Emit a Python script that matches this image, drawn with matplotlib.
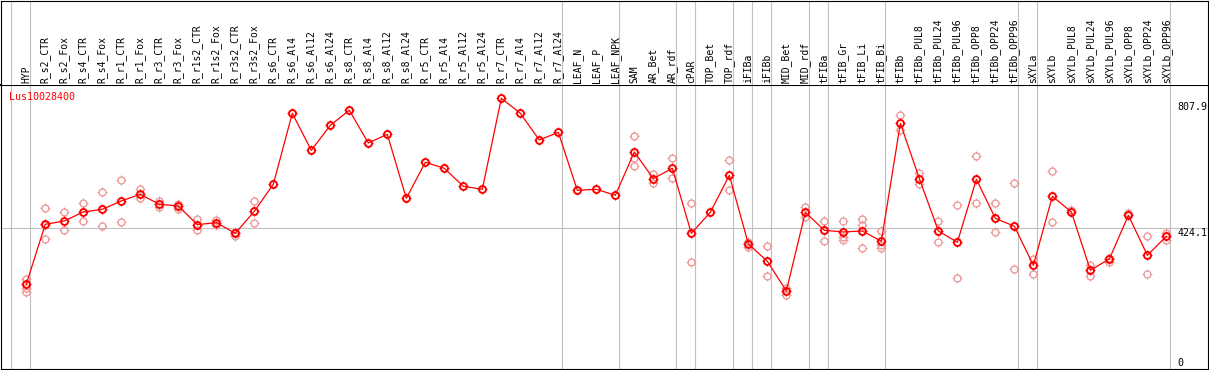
import numpy as np
import matplotlib.pyplot as plt
from matplotlib.path import Path

categories = ["HYP", "R_s2_CTR", "R_s2_Fox", "R_s4_CTR", "R_s4_Fox", "R_r1_CTR", "R_r1_Fox",
              "R_r3_CTR", "R_r3_Fox", "R_r1s2_CTR", "R_r1s2_Fox", "R_r3s2_CTR", "R_r3s2_Fox",
              "R_s6_CTR", "R_s6_Al4", "R_s6_Al12", "R_s6_Al24", "R_s8_CTR", "R_s8_Al4",
              "R_s8_Al12", "R_s8_Al24", "R_r5_CTR", "R_r5_Al4", "R_r5_Al12", "R_r5_Al24",
              "R_r7_CTR", "R_r7_Al4", "R_r7_Al12", "R_r7_Al24", "LEAF_N", "LEAF_P", "LEAF_NPK",
              "SAM", "AR_Bet", "AR_rdf", "cPAR", "TOP_Bet", "TOP_rdf", "iFIBa", "iFIBb",
              "MID_Bet", "MID_rdf", "tFIBa", "tFIB_Gr", "tFIB_Li", "tFIB_Bi", "tFIBb",
              "tFIBb_PUL8", "tFIBb_PUL24", "tFIBb_PUL96", "tFIBb_OPP8", "tFIBb_OPP24",
              "tFIBb_OPP96", "sXYLa", "sXYLb", "sXYLb_PUL8", "sXYLb_PUL24", "sXYLb_PUL96",
              "sXYLb_OPP8", "sXYLb_OPP24", "sXYLb_OPP96"]

means = [258.8, 435.9, 445.8, 472.3, 480.2, 504.8, 524.5, 495.0, 490.1, 434.9, 440.9,
         409.4, 474.3, 554.0, 763.6, 654.4, 728.2, 772.5, 676.0, 701.6, 512.7, 619.0,
         601.3, 548.1, 539.3, 807.9, 763.6, 684.9, 707.5, 536.3, 539.3, 521.6, 649.5,
         570.8, 601.3, 409.4, 471.4, 580.6, 377.9, 326.7, 239.1, 471.4, 418.2, 413.3,
         416.3, 385.8, 734.1, 570.8, 416.3, 382.8, 568.8, 453.6, 430.0, 314.9, 518.6,
         472.3, 300.1, 333.6, 462.5, 344.4, 400.5]

# replicate samples: category index and value
rep_idx = [0, 0, 0, 1, 1, 1, 2, 2, 3, 3, 4, 4, 5, 5, 6, 6, 7, 7, 8, 8, 9, 9, 10, 10,
           11, 11, 12, 12, 32, 32, 32, 33, 33, 34, 34, 35, 35, 37, 37, 38, 38, 39, 39,
           40, 40, 41, 41, 42, 42, 43, 43, 43, 44, 44, 44, 45, 45, 45, 46, 46, 47, 47,
           48, 48, 49, 49, 50, 50, 51, 51, 52, 52, 53, 53, 54, 54, 55, 56, 56, 57, 57,
           58, 59, 59, 60, 60]
rep_val = [275.5, 249.0, 237.2, 483.2, 434.0, 391.7, 472.3, 418.2, 497.9, 444.8,
           531.4, 430.0, 565.8, 442.8, 539.3, 512.7, 505.8, 487.1, 495.0, 481.2,
           450.7, 418.2, 449.7, 433.0, 414.3, 402.5, 505.8, 438.9, 695.7, 630.8, 609.1,
           583.5, 557.0, 630.8, 571.7, 497.9, 323.8, 624.9, 536.3, 384.8, 370.0,
           371.0, 282.4, 247.0, 227.3, 487.1, 458.6, 445.8, 385.8, 445.8, 397.6, 389.7,
           450.7, 434.0, 365.1, 416.3, 374.9, 365.1, 758.7, 714.4, 586.5, 556.0,
           445.8, 382.8, 492.0, 276.5, 636.7, 497.9, 497.9, 413.3, 558.0, 303.1,
           332.6, 288.3, 592.4, 441.8, 478.3, 315.9, 284.4, 337.5, 325.7, 468.4,
           400.5, 288.3, 410.4, 390.7]

# dividers sit just right of these category indices
dividers = [-1, 0, 28, 31, 34, 35, 37, 38, 39, 41, 42, 45, 52, 53, 60]
scale_labels = ["807.9", "424.1", "0"]
scale_values = [807.9, 424.1, 0]

W, H = 1209, 370
fig = plt.figure(figsize=(W / 100, H / 100), dpi=100)
ax = fig.add_axes([1 / W, 1 / H, 1207 / W, 284 / H])
hdr = fig.add_axes([1 / W, 285 / H, 1207 / W, 84.5 / H], sharex=ax)

x = np.arange(len(categories))
ax.set_xlim(-1.33, 62.19)
ax.set_ylim(8.7, 847.2)
hdr.set_ylim(0, 1)

for a in (ax, hdr):
    a.set_xticks([])
    a.set_yticks([])
    for s in a.spines.values():
        s.set_linewidth(0.8)
ax.spines["top"].set_linewidth(1.5)
hdr.spines["bottom"].set_visible(False)

for d in dividers:
    ax.axvline(d + 0.2, color="#c0c0c0", lw=0.8, zorder=0)
    hdr.axvline(d + 0.2, color="#c0c0c0", lw=0.8, zorder=0)
ax.axhline(424.1, color="#c0c0c0", lw=0.8, zorder=0)

# four little ticks sitting just outside the circle
ticks = Path([(0, 1), (0, 1.4), (0, -1), (0, -1.4), (1, 0), (1.4, 0), (-1, 0), (-1.4, 0)],
             [Path.MOVETO, Path.LINETO] * 4)
d_circ = 5.0

ax.plot(rep_idx, rep_val, ls="none", marker="o", ms=d_circ, mfc="none",
        mec="#ee9999", mew=1.0, zorder=2)
ax.plot(rep_idx, rep_val, ls="none", marker=ticks, ms=d_circ * 1.4,
        mec="#ee9999", mew=0.7, zorder=2)
ax.plot(x, means, color="#ff0000", lw=0.9, zorder=3)
ax.plot(x, means, ls="none", marker="o", ms=d_circ, mfc="none",
        mec="#ff0000", mew=1.4, zorder=4)
ax.plot(x, means, ls="none", marker=ticks, ms=d_circ * 1.4,
        mec="#ff0000", mew=0.8, zorder=4)

mono = "DejaVu Sans Mono"
for i, c in enumerate(categories):
    hdr.text(i, 0.025, c, rotation=90, ha="center", va="bottom",
             fontsize=7.0, family=mono)

ax.text(0.0069, 0.956, "Lus10028400", transform=ax.transAxes, color="#ff0000",
        fontsize=7.2, family=mono, va="center", ha="left")

offsets = [-4, 0, 4]
vas = ["top", "top", "bottom"]
for lab, v, off, va in zip(scale_labels, scale_values, offsets, vas):
    ax.annotate(lab, xy=(0.975, v), xycoords=ax.get_yaxis_transform(),
                xytext=(0, off), textcoords="offset pixels", ha="left", va=va,
                fontsize=7.2, family=mono, annotation_clip=False)

fig.savefig("out.png", dpi=100)
